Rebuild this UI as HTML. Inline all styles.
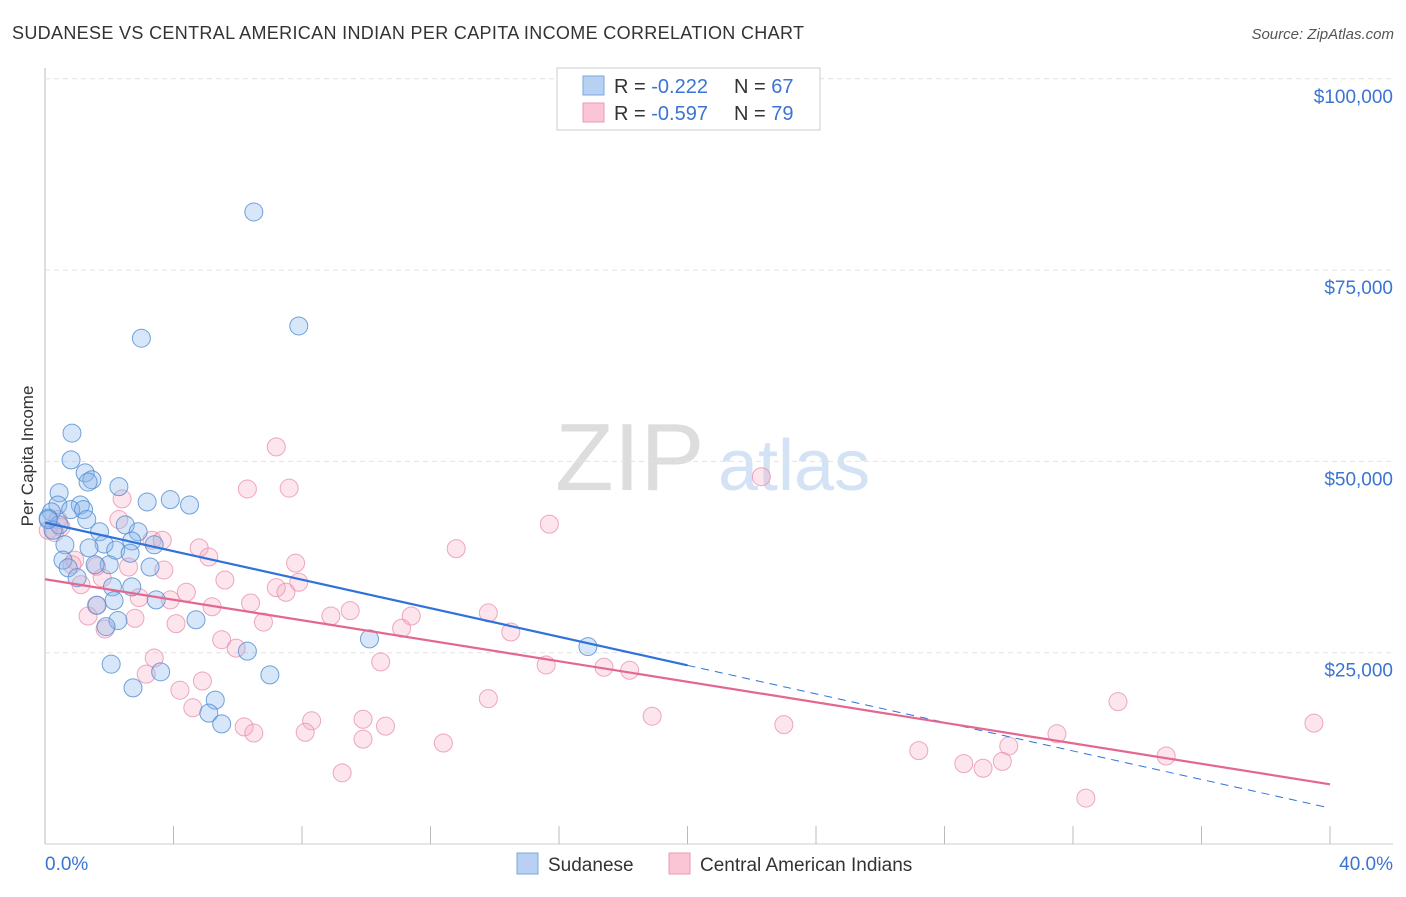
<!DOCTYPE html>
<html><head><meta charset="utf-8"><style>
body{margin:0;background:#fff;font-family:"Liberation Sans",sans-serif}
svg text{font-family:"Liberation Sans",sans-serif}
</style></head><body>
<svg id="c" width="1406" height="892">
<text x="12" y="39" font-size="18" fill="#333" textLength="792">SUDANESE VS CENTRAL AMERICAN INDIAN PER CAPITA INCOME CORRELATION CHART</text>
<text x="1394" y="39" font-size="15" fill="#555" font-style="italic" text-anchor="end">Source: ZipAtlas.com</text>
<text x="33" y="456" font-size="17" fill="#333" transform="rotate(-90 33 456)" text-anchor="middle">Per Capita Income</text>
<text x="555" y="490" font-size="96" fill="#ddd" font-family="Liberation Serif">ZIP</text>
<text x="718" y="490" font-size="72" fill="#d3e2f4">atlas</text>
<g id="grid"></g><g id="pts"></g><g id="lines"></g>
<g>
<rect x="557" y="68" width="263" height="62" fill="#fff" stroke="#ccc"/>
<rect x="583" y="76" width="21" height="19" fill="#b8d1f3" stroke="#7aa7e0"/>
<rect x="583" y="103" width="21" height="19" fill="#fac6d5" stroke="#eb9ab3"/>
<text x="614" y="93" font-size="20" fill="#333">R = <tspan fill="#3b74d1">-0.222</tspan></text>
<text x="734" y="93" font-size="20" fill="#333">N = <tspan fill="#3b74d1">67</tspan></text>
<text x="614" y="120" font-size="20" fill="#333">R = <tspan fill="#3b74d1">-0.597</tspan></text>
<text x="734" y="120" font-size="20" fill="#333">N = <tspan fill="#3b74d1">79</tspan></text>
</g>
<g>
<rect x="517" y="853" width="21" height="21" fill="#b8d1f3" stroke="#7aa7e0"/>
<text x="548" y="871" font-size="19" fill="#333">Sudanese</text>
<rect x="669" y="853" width="21" height="21" fill="#fac6d5" stroke="#eb9ab3"/>
<text x="700" y="871" font-size="19" fill="#333">Central American Indians</text>
</g>
<text x="45" y="870" font-size="19" fill="#3b74d1">0.0%</text>
<text x="1393" y="870" font-size="19" fill="#3b74d1" text-anchor="end">40.0%</text>
</svg>
<script>
const yTicks=[25000,50000,75000,100000];
const yTickLabels=["$25,000","$50,000","$75,000","$100,000"];
const blueX=[6.5,3.0,7.9,0.84,0.81,1.25,1.46,1.34,2.3,0.44,3.18,3.9,4.5,0.4,1.1,0.2,0.8,1.2,1.3,0.1,2.5,0.44,1.7,2.9,0.25,2.7,0.62,1.84,3.4,1.37,2.2,2.65,0.56,2.0,3.27,1.56,0.72,1.0,2.1,2.7,1.62,2.15,3.46,4.7,2.27,1.9,10.1,16.9,6.3,2.06,3.6,7.0,2.74,5.3,5.1,5.5,0.1];
const blueY=[82.6,66.1,67.7,53.7,50.2,48.5,47.6,47.3,46.7,45.9,44.7,45.0,44.3,44.3,44.3,43.4,43.7,43.7,42.4,42.6,41.7,41.7,40.8,40.8,41.0,39.6,39.1,39.2,39.1,38.7,38.4,38.0,37.1,36.5,36.2,36.5,36.1,34.8,33.6,33.6,31.2,31.8,31.9,29.3,29.2,28.4,26.8,25.8,25.2,23.5,22.5,22.1,20.4,18.8,17.1,15.7,42.4];
const pinkX=[7.2,22.3,6.3,7.6,2.4,15.7,2.3,0.4,3.33,3.65,4.8,12.8,5.1,0.93,7.8,2.6,3.7,1.78,5.6,7.9,1.12,7.2,7.5,2.93,4.4,3.9,6.4,5.2,9.5,13.8,8.9,11.4,2.8,1.34,6.8,4.08,11.1,1.87,14.5,5.5,5.95,3.4,15.6,17.4,18.2,10.45,3.15,4.9,4.2,13.8,33.4,4.6,18.9,8.3,9.9,39.5,23.0,6.2,10.6,8.1,6.5,31.5,9.9,12.4,30.0,27.2,34.9,29.8,28.6,29.2,9.25,32.4,0.1,0.3,0.5,0.84,1.6,1.6];
const pinkY=[51.9,48.0,46.4,46.5,45.1,41.8,42.4,42.4,39.7,39.7,38.7,38.6,37.5,37.1,36.7,36.2,35.8,34.8,34.5,34.2,33.9,33.5,32.9,32.2,32.9,31.9,31.5,31.0,30.5,30.2,29.8,29.8,29.5,29.8,29.0,28.8,28.2,28.1,27.7,26.7,25.6,24.3,23.4,23.1,22.7,23.8,22.2,21.3,20.1,19.0,18.6,17.8,16.7,16.1,16.3,15.8,15.6,15.3,15.4,14.6,14.5,14.4,13.7,13.2,12.8,12.2,11.5,10.8,10.5,9.9,9.3,6.0,41.0,40.7,41.4,36.5,31.2,36.3];
const blueFit=[42.0,4.7];
const pinkFit=[34.6,7.8];
const NS="http://www.w3.org/2000/svg";
const X=v=>45+v*32.125;
const Y=v=>844-v*7.652;
function mk(t,a,p){const e=document.createElementNS(NS,t);for(const k in a)e.setAttribute(k,a[k]);p.appendChild(e);return e;}
const grid=document.getElementById('grid');
mk('line',{x1:45,y1:68,x2:45,y2:844,stroke:'#bbb'},grid);
mk('line',{x1:45,y1:844,x2:1393,y2:844,stroke:'#ccc'},grid);
for(let i=0;i<=10;i++){const l=mk('line',{x1:X(i*4),y1:826,x2:X(i*4),y2:844,stroke:'#bbb'},grid);

}
yTicks.forEach((t,i)=>{const y=Y(t/1000);
const g=mk('line',{x1:45,y1:y,x2:1393,y2:y,stroke:'#e2e2e2','stroke-dasharray':'5,4'},grid);


const tx=mk('text',{x:1393,y:y+24,'font-size':19,fill:'#3b74d1','text-anchor':'end'},grid);


tx.textContent=yTickLabels[i];});
const pts=document.getElementById('pts');
pinkX.forEach((x,i)=>{const c=mk('circle',{cx:X(x),cy:Y(pinkY[i]),r:9,fill:'rgba(246,170,192,0.3)',stroke:'rgba(232,140,168,0.75)','stroke-width':1},pts);

});
blueX.forEach((x,i)=>{const c=mk('circle',{cx:X(x),cy:Y(blueY[i]),r:9,fill:'rgba(140,182,235,0.35)',stroke:'rgba(80,140,210,0.8)','stroke-width':1},pts);

});
const L=document.getElementById('lines');
const by=x=>blueFit[0]+(blueFit[1]-blueFit[0])*x/40;
let a=mk('line',{x1:X(0),y1:Y(by(0)),x2:X(20),y2:Y(by(20)),stroke:'#2f72d8','stroke-width':2.2},L);


a=mk('line',{x1:X(20),y1:Y(by(20)),x2:X(40),y2:Y(by(40)),stroke:'#2f72d8','stroke-width':1,'stroke-dasharray':'8,6'},L);


a=mk('line',{x1:X(0),y1:Y(pinkFit[0]),x2:X(40),y2:Y(pinkFit[1]),stroke:'#e4678f','stroke-width':2.2},L);


</script>
</body></html>
